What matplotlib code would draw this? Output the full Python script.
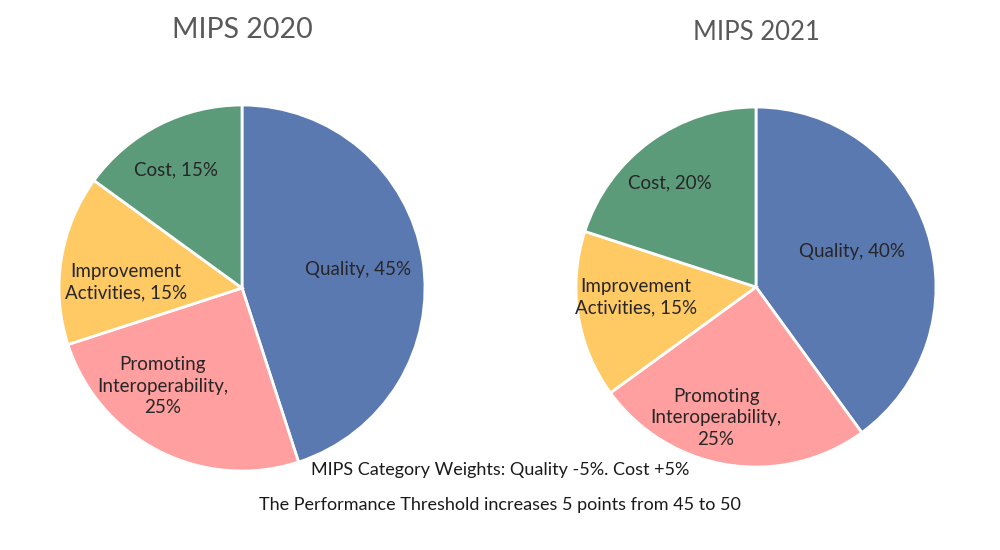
import matplotlib.pyplot as plt
import numpy as np

plt.rcParams['font.family'] = ['Lato', 'DejaVu Sans']

# data
categories = ['Quality', 'Promoting Interoperability', 'Improvement Activities', 'Cost']
weights_2020 = [45, 25, 15, 15]
weights_2021 = [40, 25, 15, 20]
labels_2020 = ['Quality, 45%', 'Promoting\nInteroperability,\n25%', 'Improvement\nActivities, 15%', 'Cost, 15%']
labels_2021 = ['Quality, 40%', 'Promoting\nInteroperability,\n25%', 'Improvement\nActivities, 15%', 'Cost, 20%']
colors = ['#5B79B1', '#FF9F9F', '#FFCA64', '#5C9B7A']

fig = plt.figure(figsize=(10, 5.5), dpi=100)
fig.patch.set_facecolor('white')


def draw_pie(rect, values, labels, title, title_y, title_size, radii, turns):
    ax = fig.add_axes(rect)
    wedges, texts = ax.pie(values, labels=labels, colors=colors, startangle=90,
                           counterclock=False, labeldistance=0.66,
                           wedgeprops=dict(edgecolor='white', linewidth=2),
                           textprops=dict(fontsize=13.5, color='#262626', linespacing=1.3))
    # label placement: radius and small angular nudge from wedge middle
    for w, t, r, d in zip(wedges, texts, radii, turns):
        ang = np.deg2rad((w.theta1 + w.theta2) / 2 + d)
        t.set_position((r * np.cos(ang), r * np.sin(ang)))
        t.set_ha('center')
        t.set_va('center')
        t.set_multialignment('center')
    ax.set_xlim(-1, 1)
    ax.set_ylim(-1, 1)
    ax.set_aspect('equal')
    cx = rect[0] + rect[2] / 2
    fig.text(cx, title_y, title, ha='center', va='center', fontsize=title_size, color='#595959')


draw_pie([0.059, 0.1436, 0.366, 0.6655], weights_2020, labels_2020, 'MIPS 2020', 1 - 30 / 550, 20.5,
         [0.64, 0.69, 0.635, 0.74], [0, -12, 6, 2])
draw_pie([0.576, 0.1509, 0.36, 0.6545], weights_2021, labels_2021, 'MIPS 2021', 1 - 33 / 550, 18.5,
         [0.57, 0.76, 0.67, 0.75], [2, -8, -4, 3.5])

fig.text(0.5, 1 - 470 / 550, 'MIPS Category Weights: Quality -5%. Cost +5%', ha='center', va='center',
         fontsize=13, color='#1a1a1a')
fig.text(0.5, 1 - 505 / 550, 'The Performance Threshold increases 5 points from 45 to 50', ha='center', va='center',
         fontsize=13, color='#1a1a1a')

fig.savefig('out.png', dpi=100, facecolor='white')
